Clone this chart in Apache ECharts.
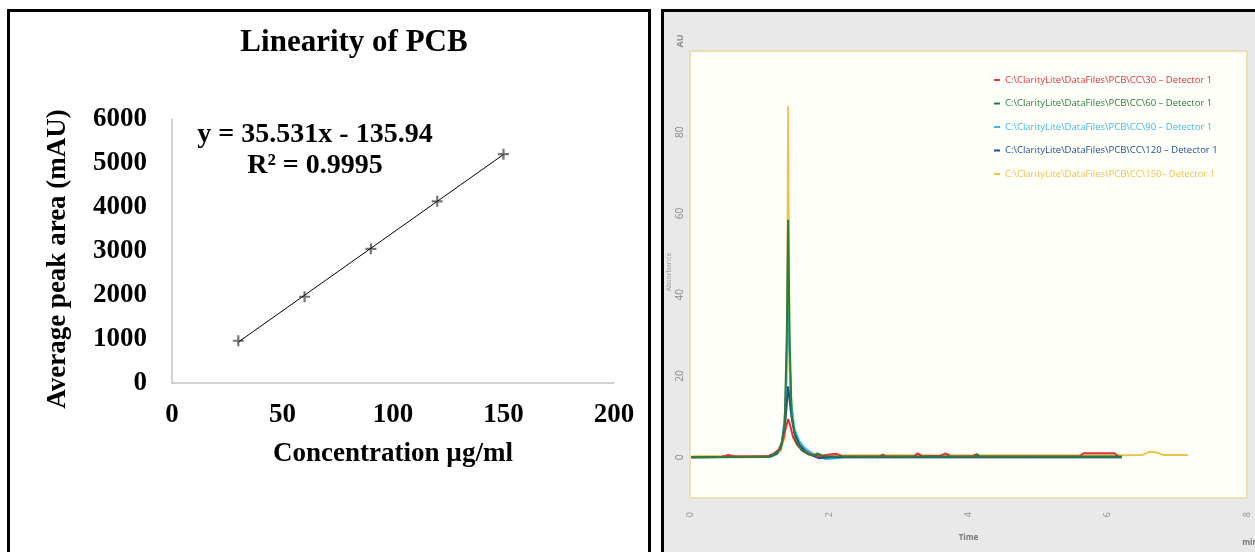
<!DOCTYPE html>
<html><head><meta charset="utf-8">
<script src="https://cdn.jsdelivr.net/npm/echarts@6/dist/echarts.min.js"></script>
<style>
html,body{margin:0;padding:0;width:1255px;height:552px;overflow:hidden;background:#fff}
#lp{position:absolute;left:7px;top:9px;width:638px;height:560px;border:3px solid #000;background:#fff}
#rp{position:absolute;left:661px;top:9px;width:620px;height:560px;border:3px solid #000;background:#e9e9e9}
#c{position:absolute;left:0;top:0;width:1255px;height:552px}
</style></head><body>
<div id="lp"></div><div id="rp"></div><div id="c"></div>
<script>
// ---- Left chart: linearity ----
const concentrations = [30, 60, 90, 120, 150];
const peakAreas = [960, 1960, 3050, 4130, 5200];
const trendX = [30, 150];
const trendY = [930, 5194];
const xTicksLeft = [0, 50, 100, 150, 200];
const yTicksLeft = [0, 1000, 2000, 3000, 4000, 5000, 6000];
const equationText = 'y = 35.531x - 135.94';
const r2Text = 'R² = 0.9995';

// ---- Right chart: chromatograms [time(min), signal] ----
const seriesNames = [
  'C:\\ClarityLite\\DataFiles\\PCB\\CC\\30 – Detector 1',
  'C:\\ClarityLite\\DataFiles\\PCB\\CC\\60 – Detector 1',
  'C:\\ClarityLite\\DataFiles\\PCB\\CC\\90 – Detector 1',
  'C:\\ClarityLite\\DataFiles\\PCB\\CC\\120 – Detector 1',
  'C:\\ClarityLite\\DataFiles\\PCB\\CC\\150– Detector 1'
];
const seriesColors = ['#e2323f', '#2b7d3a', '#3db8e6', '#24508f', '#e9c44c'];
const cc30 = [[0.02,0],[0.45,0.1],[0.55,0.6],[0.65,0.2],[1.1,0.2],[1.2,0.9],[1.28,2.0],[1.34,4.5],[1.38,7.5],[1.41,9.4],[1.44,7.8],[1.48,5.0],[1.54,3.0],[1.62,1.6],[1.72,0.8],[1.85,0.3],[2.0,0.7],[2.1,0.9],[2.18,0.3],[2.72,0.2],[2.77,0.7],[2.82,0.2],[3.22,0.3],[3.27,1.0],[3.33,0.3],[3.6,0.4],[3.67,1.0],[3.74,0.3],[4.05,0.2],[4.1,0.7],[4.15,0.2],[5.6,0.3],[5.65,1.0],[6.1,1.0],[6.15,0.2]];
const cc60 = [[0.02,0],[1.1,0.1],[1.2,0.6],[1.3,2.0],[1.36,8],[1.39,30],[1.41,58.5],[1.43,30],[1.46,10],[1.52,4],[1.6,1.8],[1.7,0.7],[1.8,0.5],[1.83,1.0],[1.9,0.3],[4.1,0.2],[4.12,0.8],[4.16,0.2],[6.2,0.2]];
const cc90 = [[0.02,0],[1.15,0.1],[1.25,0.8],[1.32,3],[1.37,12],[1.41,36.3],[1.45,14],[1.5,7],[1.57,4],[1.65,2.2],[1.75,1.0],[1.85,0.2],[1.95,-0.4],[2.1,-0.2],[2.2,0],[6.2,0]];
const cc120 = [[0.02,0],[1.15,0.2],[1.25,1.0],[1.32,3.5],[1.37,9],[1.41,17.5],[1.45,11],[1.5,6],[1.57,3.2],[1.65,1.6],[1.75,0.5],[1.85,-0.2],[2.0,0],[6.2,0]];
const cc150 = [[0.02,0.3],[1.2,0.4],[1.3,1.5],[1.36,5],[1.39,20],[1.41,86.4],[1.43,22],[1.47,9],[1.53,5],[1.6,3],[1.7,1.6],[1.8,0.8],[1.95,0.5],[6.2,0.5],[6.5,0.6],[6.6,1.4],[6.7,1.2],[6.8,0.6],[7.15,0.6]];
const yTicksRight = [0, 20, 40, 60, 80];

const serif = 'Liberation Serif';
const chart = echarts.init(document.getElementById('c'));
const chromData = [cc30, cc60, cc90, cc120, cc150];
const drawOrder = [4, 2, 3, 0, 1];

const chromSeries = drawOrder.map(i => ({
  type: 'line', name: seriesNames[i], xAxisIndex: 1, yAxisIndex: 1,
  data: chromData[i], showSymbol: false, symbol: 'none',
  lineStyle: { color: seriesColors[i], width: 2 }, itemStyle: { color: seriesColors[i] }
}));

chart.setOption({
  animation: false,
  grid: [
    { left: 172, top: 119, width: 442, height: 264 },
    { left: 690, top: 51, width: 557, height: 447, show: true, backgroundColor: '#fffffa', borderColor: '#ecdfb4', borderWidth: 2 }
  ],
  xAxis: [
    { type: 'value', gridIndex: 0, min: 0, max: 200, interval: 50,
      axisLine: { show: true, lineStyle: { color: '#c4c4c4', width: 1.5 } },
      axisTick: { show: false }, splitLine: { show: false },
      axisLabel: { fontFamily: serif, fontWeight: 'bold', fontSize: 27, color: '#000', margin: 19,
        customValues: xTicksLeft, formatter: v => String(v) },
      name: 'Concentration µg/ml', nameLocation: 'middle', nameGap: 58,
      nameTextStyle: { fontFamily: serif, fontWeight: 'bold', fontSize: 27, color: '#000' } },
    { type: 'value', gridIndex: 1, min: 0, max: 8, interval: 2,
      axisLine: { show: false }, axisTick: { show: false }, splitLine: { show: false },
      axisLabel: { rotate: 90, fontSize: 9, color: '#909090', margin: 14, fontFamily: 'Open Sans' },
      name: 'Time', nameLocation: 'middle', nameGap: 36,
      nameTextStyle: { fontSize: 8, color: '#777', fontWeight: 'bold', fontFamily: 'Open Sans' } }
  ],
  yAxis: [
    { type: 'value', gridIndex: 0, min: 0, max: 6000, interval: 1000,
      axisLine: { show: true, lineStyle: { color: '#c4c4c4', width: 1.5 } },
      axisTick: { show: false }, splitLine: { show: false },
      axisLabel: { fontFamily: serif, fontWeight: 'bold', fontSize: 27, color: '#000', margin: 25,
        customValues: yTicksLeft, formatter: v => String(v) } },
    { type: 'value', gridIndex: 1, min: -10, max: 100,
      axisLine: { show: false }, axisTick: { show: false }, splitLine: { show: false },
      axisLabel: { rotate: 90, fontSize: 10, color: '#8a8a8a', margin: 5, customValues: yTicksRight, fontFamily: 'Open Sans' } }
  ],
  legend: {
    orient: 'vertical', left: 989, top: 70, itemWidth: 6, itemHeight: 2, itemGap: 13.5, icon: 'rect',
    textStyle: { fontSize: 9.5, fontFamily: 'Open Sans' },
    data: seriesNames.map((n, i) => ({ name: n, textStyle: { color: seriesColors[i] } }))
  },
  graphic: [
    { type: 'text', x: 354, y: 43, style: { text: 'Linearity of PCB', font: 'bold 31px "Liberation Serif"', fill: '#000', textAlign: 'center', textVerticalAlign: 'middle' } },
    { type: 'text', x: 315, y: 135, style: { text: equationText, font: 'bold 28px "Liberation Serif"', fill: '#000', textAlign: 'center', textVerticalAlign: 'middle' } },
    { type: 'text', x: 315, y: 166, style: { text: r2Text, font: 'bold 28px "Liberation Serif"', fill: '#000', textAlign: 'center', textVerticalAlign: 'middle' } },
    { type: 'text', x: 58, y: 259, rotation: Math.PI / 2, style: { text: 'Average peak area (mAU)', font: 'bold 27px "Liberation Serif"', fill: '#000', textAlign: 'center', textVerticalAlign: 'middle' } },
    { type: 'text', x: 680, y: 41, rotation: Math.PI / 2, style: { text: 'AU', font: 'bold 9px "Open Sans"', fill: '#8a8a8a', textAlign: 'center', textVerticalAlign: 'middle' } },
    { type: 'text', x: 669, y: 272, rotation: Math.PI / 2, style: { text: 'Absorbance', font: '7px "Open Sans"', fill: '#9a9a9a', textAlign: 'center', textVerticalAlign: 'middle' } },
    { type: 'text', x: 1250, y: 543, style: { text: 'min', font: 'bold 8px "Open Sans"', fill: '#777', textAlign: 'center', textVerticalAlign: 'middle' } }
  ],
  series: [
    { type: 'line', name: 'trend', xAxisIndex: 0, yAxisIndex: 0, data: trendX.map((x, i) => [x, trendY[i]]),
      showSymbol: false, symbol: 'none', lineStyle: { color: '#000', width: 1 } },
    { type: 'scatter', name: 'points', xAxisIndex: 0, yAxisIndex: 0,
      data: concentrations.map((x, i) => [x, peakAreas[i]]),
      symbol: 'path://M4,0H6V4H10V6H6V10H4V6H0V4H4Z', symbolSize: 11, itemStyle: { color: '#555' } },
    ...chromSeries
  ]
});
</script></body></html>
